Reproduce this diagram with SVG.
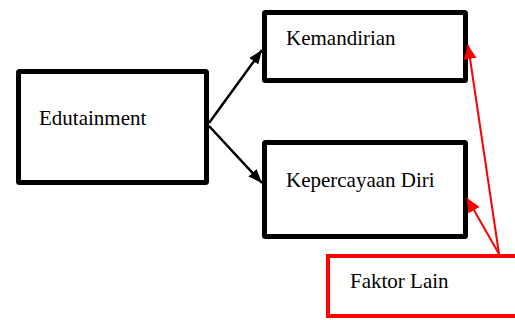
<svg xmlns="http://www.w3.org/2000/svg" width="515" height="320" viewBox="0 0 515 320">
<style>
.box{fill:#fff;stroke:#000;stroke-width:5;stroke-linejoin:round}
.rbox{fill:#fff;stroke:#ff0000;stroke-width:4}
.lbl{font-size:21px;fill:#000}
.ar{stroke:#000;stroke-width:2.5;fill:none}
.rar{stroke:#ff0000;stroke-width:2;fill:none}
</style>
<defs>
<marker id="ah" markerUnits="userSpaceOnUse" markerWidth="15" markerHeight="12" refX="14" refY="6" orient="auto"><path d="M0,0.5 L14,6 L0,11.5 z" fill="#000"/></marker>
<marker id="rah" markerUnits="userSpaceOnUse" markerWidth="15" markerHeight="14" refX="14" refY="7" orient="auto"><path d="M0,0.5 L14,7 L0,13.5 z" fill="#ff0000"/></marker>
</defs>
<g font-family="'Liberation Serif', 'DejaVu Serif', serif">
<g id="edutainment"><rect class="box" x="18.5" y="71.5" width="188" height="111" rx="1"/><text class="lbl" x="39" y="125">Edutainment</text></g>
<g id="kemandirian"><rect class="box" x="264.5" y="12.5" width="201" height="68" rx="1"/><text class="lbl" x="286" y="45">Kemandirian</text></g>
<g id="kepercayaan"><rect class="box" x="264.5" y="142.5" width="201" height="94" rx="1"/><text class="lbl" x="286" y="187">Kepercayaan Diri</text></g>
<g id="faktor"><rect class="rbox" x="328" y="256" width="192" height="60"/><text class="lbl" x="350" y="288">Faktor Lain</text></g>
</g>
<g id="connectors">
<line class="ar" x1="209" y1="123" x2="262" y2="50" marker-end="url(#ah)"/>
<line class="ar" x1="209" y1="126" x2="262" y2="183" marker-end="url(#ah)"/>
<line class="rar" x1="499" y1="254" x2="468" y2="45" marker-end="url(#rah)"/>
<line class="rar" x1="499" y1="254" x2="467" y2="198" marker-end="url(#rah)"/>
</g>
</svg>
